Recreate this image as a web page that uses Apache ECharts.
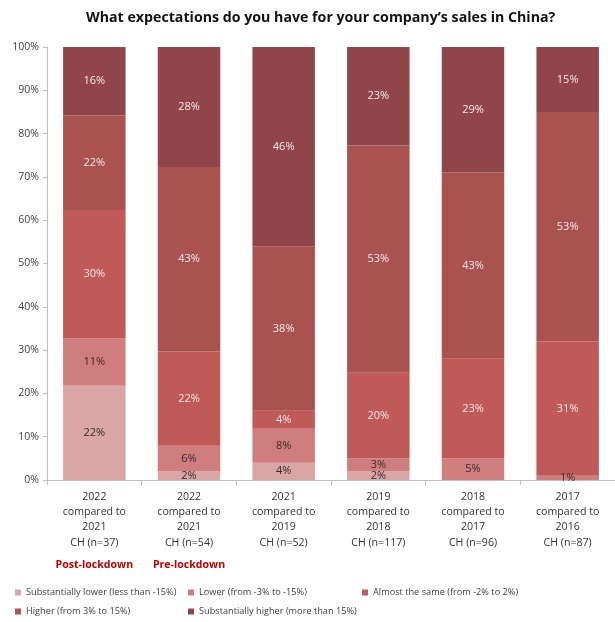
<!DOCTYPE html>
<html>
<head>
<meta charset="utf-8">
<script src="https://cdn.jsdelivr.net/npm/echarts@6/dist/echarts.min.js"></script>
<style>
  html, body { margin: 0; padding: 0; background: #fff; }
  #chart { width: 615px; height: 622px; }
</style>
</head>
<body>
<div id="chart"></div>
<script>
// Survey periods (x-axis categories)
const categories = [
  '2022\ncompared to\n2021\nCH (n=37)',
  '2022\ncompared to\n2021\nCH (n=54)',
  '2021\ncompared to\n2019\nCH (n=52)',
  '2019\ncompared to\n2018\nCH (n=117)',
  '2018\ncompared to\n2017\nCH (n=96)',
  '2017\ncompared to\n2016\nCH (n=87)'
];
// Notes printed under the first two categories
const notes = ['Post-lockdown', 'Pre-lockdown', '', '', '', ''];

const seriesNames = [
  'Substantially lower (less than -15%)',
  'Lower (from -3% to -15%)',
  'Almost the same (from -2% to 2%)',
  'Higher (from 3% to 15%)',
  'Substantially higher (more than 15%)'
];

// Answer shares in percent, per category
const substantiallyLower  = [22, 2, 4, 2, 0, 0];
const lower               = [11, 6, 8, 3, 5, 1];
const almostSame          = [30, 22, 4, 20, 23, 31];
const higher              = [22, 43, 38, 53, 43, 53];
const substantiallyHigher = [16, 28, 46, 23, 29, 15];

const yTicks = [0, 10, 20, 30, 40, 50, 60, 70, 80, 90, 100];

const colors = ['#daa5a5', '#cf7d7d', '#bf5a58', '#a95250', '#904649'];
const labelColors = ['#3b2b2b', '#3b2b2b', '#f6e8e8', '#f6e8e8', '#f6e8e8'];

const allSeries = [substantiallyLower, lower, almostSame, higher, substantiallyHigher];
// Totals per category, so each column fills 100%
const totals = categories.map((_, i) => allSeries.reduce((s, arr) => s + arr[i], 0));

const font = '"Open Sans", "Noto Sans", sans-serif';

const chart = echarts.init(document.getElementById('chart'));

const series = allSeries.map((arr, k) => ({
  name: seriesNames[k],
  type: 'bar',
  stack: 'total',
  barCategoryGap: '34%',
  itemStyle: { color: colors[k] },
  label: {
    show: true,
    position: 'inside',
    fontFamily: font,
    fontSize: 11,
    color: labelColors[k],
    formatter: p => (arr[p.dataIndex] > 0 ? arr[p.dataIndex] + '%' : '')
  },
  data: arr.map((v, i) => (v / totals[i]) * 100)
}));

// Legend laid out as a two-row table: one legend block per entry
const legendSlots = [[15, 588], [188, 588], [362, 588], [15, 607], [188, 607]];
const legends = seriesNames.map((name, k) => ({
  data: [name],
  left: legendSlots[k][0],
  top: legendSlots[k][1],
  padding: 0,
  itemWidth: 6,
  itemHeight: 6,
  icon: 'rect',
  textStyle: { fontFamily: font, fontSize: 9.2, color: '#404040' }
}));

chart.setOption({
  animation: false,
  backgroundColor: '#fff',
  title: {
    text: 'What expectations do you have for your company\u2019s sales in China?',
    left: 81,
    top: 6,
    textStyle: { fontFamily: font, fontSize: 14.2, fontWeight: 'bold', color: '#111' }
  },
  legend: legends,
  grid: { left: 47, right: -5, top: 47, bottom: 142, containLabel: false },
  xAxis: {
    type: 'category',
    data: categories,
    axisLine: { lineStyle: { color: '#bfbfbf' } },
    axisTick: { show: true, length: 5, lineStyle: { color: '#bfbfbf' } },
    axisLabel: {
      interval: 0,
      margin: 9,
      color: '#333',
      fontFamily: font,
      fontSize: 10.6,
      lineHeight: 15.3,
      formatter: (v, i) => notes[i] ? v + '\n{n|' + notes[i] + '}' : v,
      rich: {
        n: {
          fontFamily: font,
          fontSize: 10.6,
          fontWeight: 'bold',
          color: '#c00000',
          lineHeight: 20,
          verticalAlign: 'bottom'
        }
      }
    }
  },
  yAxis: {
    type: 'value',
    min: yTicks[0],
    max: yTicks[yTicks.length - 1],
    interval: yTicks[1] - yTicks[0],
    axisLine: { show: true, lineStyle: { color: '#bfbfbf' } },
    axisTick: { show: true, length: 4, lineStyle: { color: '#bfbfbf' } },
    splitLine: { show: false },
    axisLabel: {
      margin: 8,
      color: '#404040',
      fontFamily: font,
      fontSize: 10.5,
      formatter: '{value}%'
    }
  },
  series: series
});
</script>
</body>
</html>
